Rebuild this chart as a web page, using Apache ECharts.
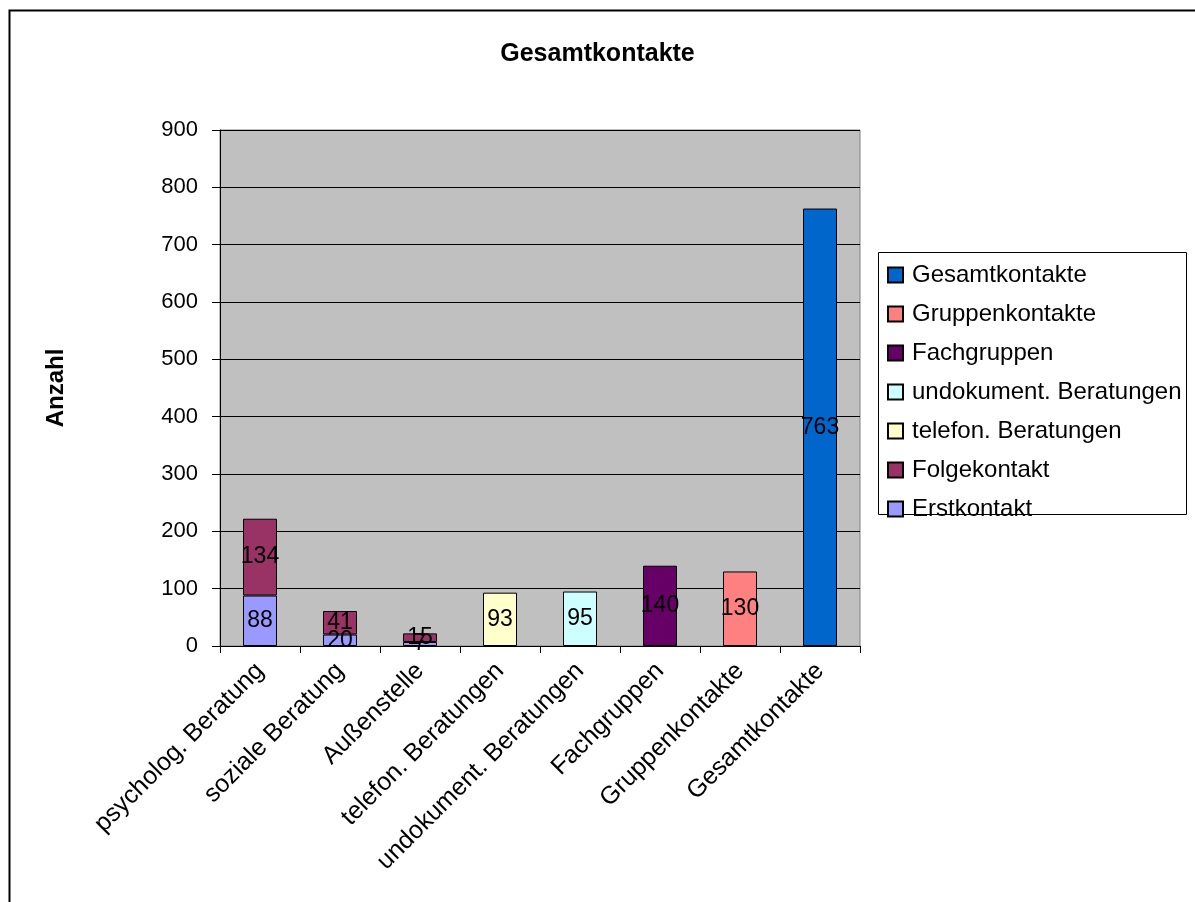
<!DOCTYPE html>
<html>
<head>
<meta charset="utf-8">
<script src="https://cdn.jsdelivr.net/npm/echarts@6/dist/echarts.min.js"></script>
<style>
html,body{margin:0;padding:0;background:#fff;}
#chart{width:1195px;height:902px;}
</style>
</head>
<body>
<div id="chart"></div>
<script>
var categories = ['psycholog. Beratung','soziale Beratung','Außenstelle','telefon. Beratungen','undokument. Beratungen','Fachgruppen','Gruppenkontakte','Gesamtkontakte'];
var erstkontakt     = [88, 20, 7, null, null, null, null, null];
var folgekontakt    = [134, 41, 15, null, null, null, null, null];
var telefonBer      = [null, null, null, 93, null, null, null, null];
var undokumentBer   = [null, null, null, null, 95, null, null, null];
var fachgruppen     = [null, null, null, null, null, 140, null, null];
var gruppenkontakte = [null, null, null, null, null, null, 130, null];
var gesamtkontakte  = [null, null, null, null, null, null, null, 763];
var yTicks = {min: 0, max: 900, interval: 100};

var FONT = '"Liberation Sans", Arial, sans-serif';
function mk(name, data, color) {
  return {
    name: name, type: 'bar', stack: 'total', data: data, barWidth: 34,
    itemStyle: {color: color, borderColor: '#000', borderWidth: 1},
    label: {show: true, position: 'inside', color: '#000', fontSize: 23, fontFamily: FONT,
      formatter: function (p) { return p.value; }}
  };
}
var chart = echarts.init(document.getElementById('chart'), null, {renderer: 'canvas'});
chart.setOption({
  animation: false,
  backgroundColor: '#fff',
  title: {
    text: 'Gesamtkontakte', left: 'center', top: 37,
    textStyle: {fontSize: 25, fontWeight: 'bold', color: '#000', fontFamily: FONT}
  },
  grid: {left: 220, right: 335, top: 130, bottom: 256, show: true, backgroundColor: '#c0c0c0', borderColor: '#808080', borderWidth: 1},
  legend: {
    orient: 'vertical', left: 887, top: 263, padding: 0, itemGap: 15,
    itemWidth: 15, itemHeight: 15, icon: 'rect',
    data: ['Gesamtkontakte','Gruppenkontakte','Fachgruppen','undokument. Beratungen','telefon. Beratungen','Folgekontakt','Erstkontakt'],
    textStyle: {fontSize: 24, color: '#000', fontFamily: FONT, lineHeight: 24, padding: [0, 0, 0, 4]}
  },
  xAxis: {
    type: 'category', data: categories,
    axisLine: {show: true, lineStyle: {color: '#000', width: 1}},
    axisTick: {show: true, length: 7, lineStyle: {color: '#000'}},
    axisLabel: {rotate: 45, interval: 0, margin: 21, fontSize: 25, color: '#000', fontFamily: FONT}
  },
  yAxis: {
    type: 'value', min: yTicks.min, max: yTicks.max, interval: yTicks.interval,
    name: 'Anzahl', nameLocation: 'middle', nameRotate: 90, nameGap: 152,
    nameTextStyle: {fontSize: 24, fontWeight: 'bold', color: '#000', fontFamily: FONT},
    axisLine: {show: true, lineStyle: {color: '#000', width: 1}},
    axisTick: {show: true, length: 8, lineStyle: {color: '#000'}},
    axisLabel: {margin: 22, fontSize: 22, color: '#000', fontFamily: FONT},
    splitLine: {show: true, lineStyle: {color: '#000', width: 1}}
  },
  graphic: [
    {type: 'rect', left: 878, top: 252, z: -1, shape: {x: 0, y: 0, width: 308, height: 262}, style: {fill: '#fff', stroke: '#000', lineWidth: 1}, silent: true},
    {type: 'rect', left: 7, top: 8, z: 100, shape: {x: 0, y: 0, width: 1300, height: 1000}, style: {fill: 'none', stroke: '#000', lineWidth: 2}, silent: true}
  ],
  series: [
    mk('Erstkontakt', erstkontakt, '#9999FF'),
    mk('Folgekontakt', folgekontakt, '#993366'),
    mk('telefon. Beratungen', telefonBer, '#FFFFCC'),
    mk('undokument. Beratungen', undokumentBer, '#CCFFFF'),
    mk('Fachgruppen', fachgruppen, '#660066'),
    mk('Gruppenkontakte', gruppenkontakte, '#FF8080'),
    mk('Gesamtkontakte', gesamtkontakte, '#0066CC')
  ]
});
</script>
</body>
</html>
